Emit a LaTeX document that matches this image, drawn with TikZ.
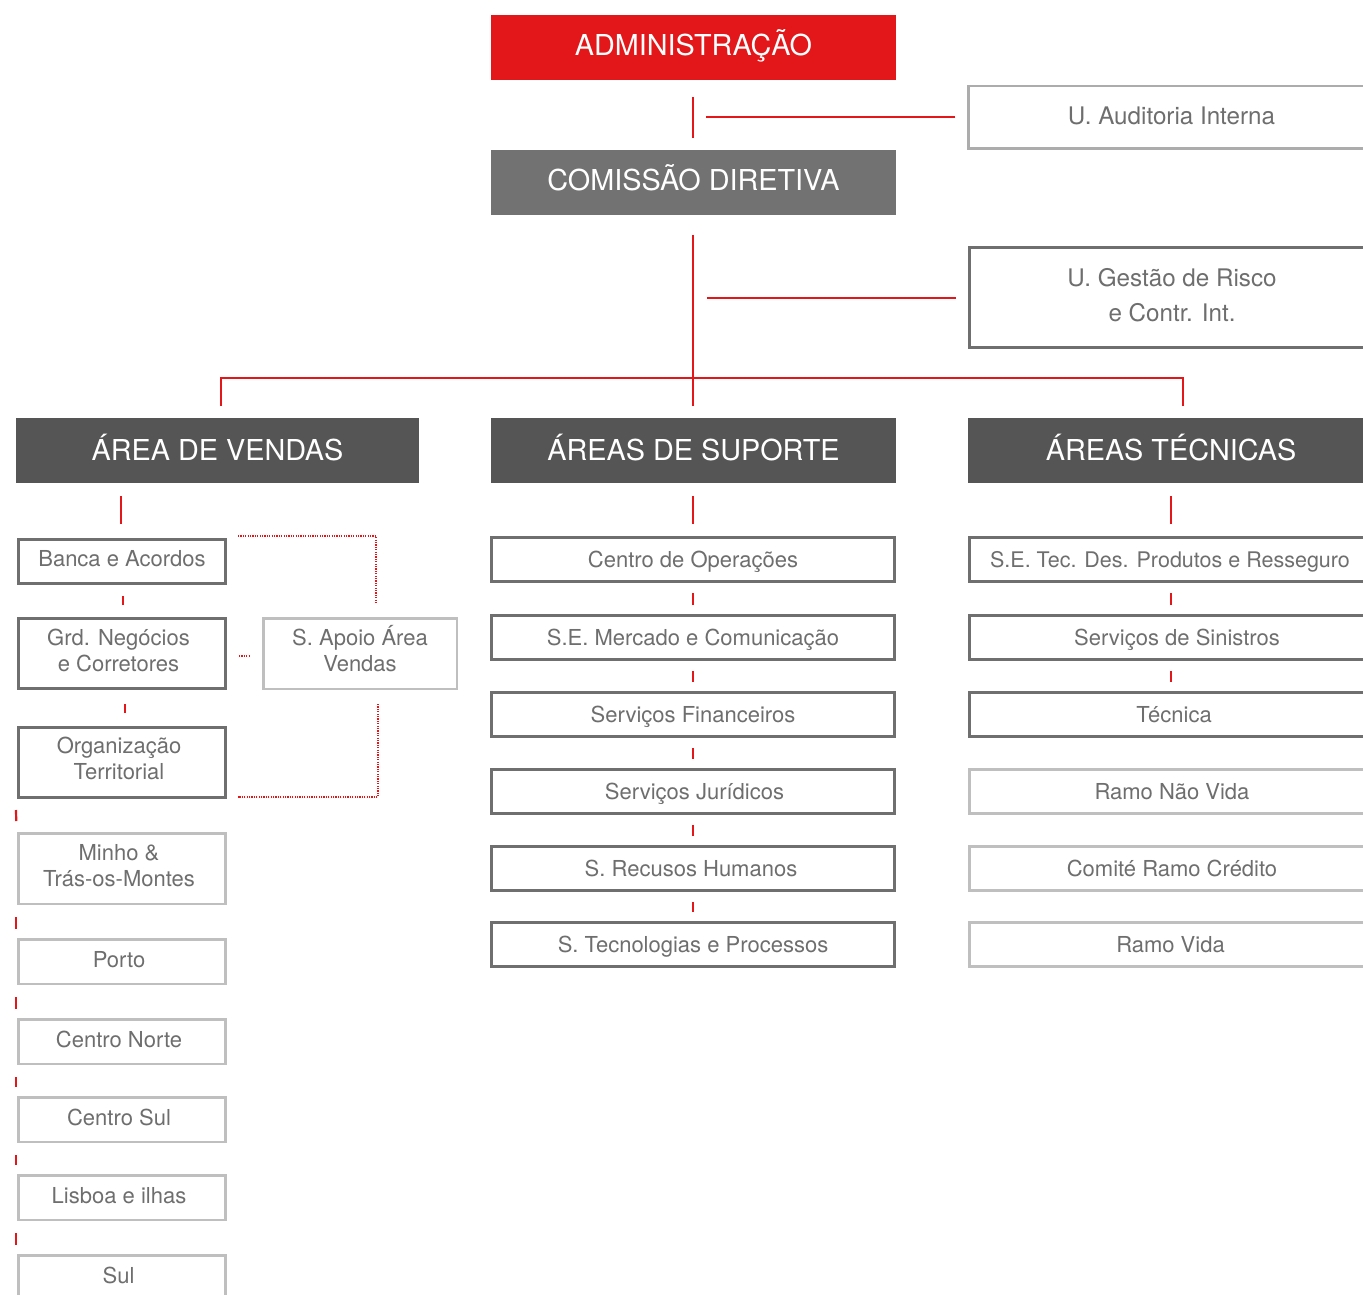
\documentclass[tikz,border=0pt]{standalone}
\usepackage{fontspec}
\setmainfont{TeX Gyre Heros}
\usetikzlibrary{calc}
\definecolor{myred}{HTML}{E3171A}
\definecolor{cdgray}{HTML}{727272}
\definecolor{hdgray}{HTML}{555555}
\definecolor{bordark}{HTML}{6F6F6F}
\definecolor{borlight}{HTML}{BFBFBF}
\definecolor{txtgray}{HTML}{6E6E6E}
\begin{document}
\begin{tikzpicture}[x=1pt,y=-1pt,
  redline/.style={draw=myred,line width=2.2pt},
  dotline/.style={draw=myred,line width=2pt,dash pattern=on 1.2pt off 1.2pt},
  topbox/.style={rectangle,inner sep=0pt,text=white,minimum height=65pt,font=\fontsize{28.8}{32}\selectfont,text height=20.7pt,text depth=5pt},
  hdbox/.style={topbox,fill=hdgray,text depth=1pt},
  darkbox/.style={rectangle,draw=bordark,line width=3pt,inner sep=0pt,text=txtgray,align=center,font=\fontsize{22}{26}\selectfont},
  lightbox/.style={darkbox,draw=borlight,line width=2.5pt},
  single/.style={text height=15.8pt,text depth=3pt},
  double/.style={text height=41.8pt,text depth=5pt},
  bigtxt/.style={font=\fontsize{24.2}{35}\selectfont},
  leftcol/.style={minimum width=207pt},
  midcol/.style={minimum width=403pt,minimum height=44pt,single,text depth=0.5pt},
  rightcol/.style={minimum width=405pt,minimum height=44pt,single,text depth=0.5pt}
]
\clip (0,0) rectangle (1363,1295);
\fill[white] (0,0) rectangle (1363,1295);

% top
\node[topbox,fill=myred,minimum width=405pt] (admin) at (693.5,47.5) {ADMINISTRAÇÃO};
\node[topbox,fill=cdgray,minimum width=405pt] (cd) at (693.5,182.5) {COMISSÃO DIRETIVA};
\node[lightbox,bigtxt,draw=borlight!90!black,minimum width=406pt,minimum height=62.5pt,text height=17.4pt,text depth=3pt] (aud) at (1171.5,117.5) {U. Auditoria Interna};
\node[darkbox,bigtxt,minimum width=405pt,minimum height=100pt,text height=52.4pt,text depth=4pt] (ges) at (1172,297.5) {U. Gestão de Risco\\e Contr. Int.};

% headers
\node[hdbox,minimum width=403pt] (vendas) at (217.5,450.5) {ÁREA DE VENDAS};
\node[hdbox,minimum width=405pt] (sup) at (693.5,450.5) {ÁREAS DE SUPORTE};
\node[hdbox,minimum width=408pt] (tec) at (1172,450.5) {\hspace*{-2pt}ÁREAS TÉCNICAS};

% left column
\node[darkbox,leftcol,single,text depth=6pt,minimum height=44pt] (banca) at (122,561.5) {Banca e Acordos};
\node[darkbox,leftcol,double,minimum height=70pt] (grd) at (122,653.5) {\hspace*{-7pt}Grd. Negócios\\\hspace*{-7pt}e Corretores};
\node[darkbox,leftcol,double,text depth=7pt,minimum height=70pt] (org) at (122,762.5) {\hspace*{-6pt}Organização\\\hspace*{-6pt}Territorial};
\node[lightbox,leftcol,double,text depth=6pt,minimum height=70.5pt] (minho) at (122,868.5) {\hspace*{-6pt}Minho \&\\\hspace*{-6pt}Trás-os-Montes};
\node[lightbox,leftcol,single,minimum height=44.5pt] (porto) at (122,961.5) {\hspace*{-6pt}Porto};
\node[lightbox,leftcol,single,minimum height=44.5pt] (cnorte) at (122,1041.5) {\hspace*{-6pt}Centro Norte};
\node[lightbox,leftcol,single,minimum height=44.5pt] (csul) at (122,1119.5) {\hspace*{-6pt}Centro Sul};
\node[lightbox,leftcol,single,minimum height=44.5pt] (lisboa) at (122,1197.5) {\hspace*{-6pt}Lisboa e ilhas};
\node[lightbox,leftcol,single,minimum height=44.5pt] (sul) at (122,1277.5) {\hspace*{-7pt}Sul};
\node[lightbox,double,minimum width=193.5pt,minimum height=70.5pt] (apoio) at (360,653.5) {S. Apoio Área\\Vendas};

% middle column
\node[darkbox,midcol] (cop) at (693,559.5) {Centro de Operações};
\node[darkbox,midcol] (merc) at (693,637.5) {S.E. Mercado e Comunicação};
\node[darkbox,midcol] (fin) at (693,714.5) {Serviços Financeiros};
\node[darkbox,midcol] (jur) at (693,791.5) {\hspace*{3pt}Serviços Jurídicos};
\node[darkbox,midcol] (rh) at (693,868.5) {\hspace*{-4pt}S. Recusos Humanos};
\node[darkbox,midcol] (tp) at (693,944.5) {S. Tecnologias e Processos};

% right column
\node[darkbox,rightcol,font=\fontsize{21.5}{26}\selectfont] (sete) at (1172,559.5) {\hspace*{-4pt}S.E. Tec. Des. Produtos e Resseguro};
\node[darkbox,rightcol] (sin) at (1172,637.5) {\hspace*{10pt}Serviços de Sinistros};
\node[darkbox,rightcol] (tecn) at (1172,714.5) {\hspace*{4pt}Técnica};
\node[lightbox,rightcol] (rnv) at (1172,791.5) {Ramo Não Vida};
\node[lightbox,rightcol] (crc) at (1172,868.5) {Comité Ramo Crédito};
\node[lightbox,rightcol] (rv) at (1172,944.5) {\hspace*{-3pt}Ramo Vida};

% top connectors
\draw[redline] ($(admin.south)+(-0.5,17)$) -- ($(cd.north)+(-0.5,-12)$);
\draw[redline,line width=2pt] ($(aud.west)+(-12,0)$) -- ($(aud.west)+(-261,0)$);
\draw[redline] ($(cd.south)+(-0.5,20)$) -- ($(sup.north)+(-0.5,-12)$);
\draw[redline,line width=2pt] ($(ges.west)+(-12,0)$) -- ($(ges.west)+(-261,0)$);
\coordinate (busL) at ($(vendas.north)+(3.5,-12)$);
\coordinate (busR) at ($(tec.north)+(11,-12)$);
\draw[redline,line width=1.6pt] (busL) |- ($(cd.south)+(0,163)$) -| (busR);

% header ticks
\draw[redline] ($(vendas.south)+(-96.5,13)$) -- ($(banca.north)+(-1,-14)$);
\draw[redline] ($(sup.south)+(-0.5,13)$) -- ($(cop.north)+(0,-12)$);
\draw[redline] ($(tec.south)+(-1,13)$) -- ($(sete.north)+(-1,-12)$);

% left ticks
\draw[redline] ($(banca.south)+(1,11)$) -- ($(grd.north)+(1,-12)$);
\draw[redline] ($(grd.south)+(3,14)$) -- ($(org.north)+(3,-13)$);
\draw[redline] ($(org.south west)+(-1,11)$) -- ($(minho.north west)+(-1,-11)$);
\foreach \a/\b in {minho/porto,porto/cnorte,cnorte/csul,csul/lisboa,lisboa/sul}
  \draw[redline] ($(\a.south west)+(-1,12)$) -- ($(\b.north west)+(-1,-9)$);

% dotted
\draw[dotline] ($(banca.north east)+(11,-2)$) -| ($(apoio.north)+(16,-14)$);
\draw[dotline] ($(grd.east)+(12,2)$) -- ($(grd.east)+(23,2)$);
\draw[dotline] ($(apoio.south)+(18,14)$) |- ($(org.south east)+(11,-2)$);

% middle ticks
\foreach \a/\b in {cop/merc,merc/fin,fin/jur,jur/rh,rh/tp}
  \draw[redline] ($(\a.south)+(0,10)$) -- ($(\b.north)+(0,-9)$);

% right ticks
\foreach \a/\b in {sete/sin,sin/tecn}
  \draw[redline] ($(\a.south)+(-1,10)$) -- ($(\b.north)+(-1,-9)$);
\end{tikzpicture}
\end{document}
